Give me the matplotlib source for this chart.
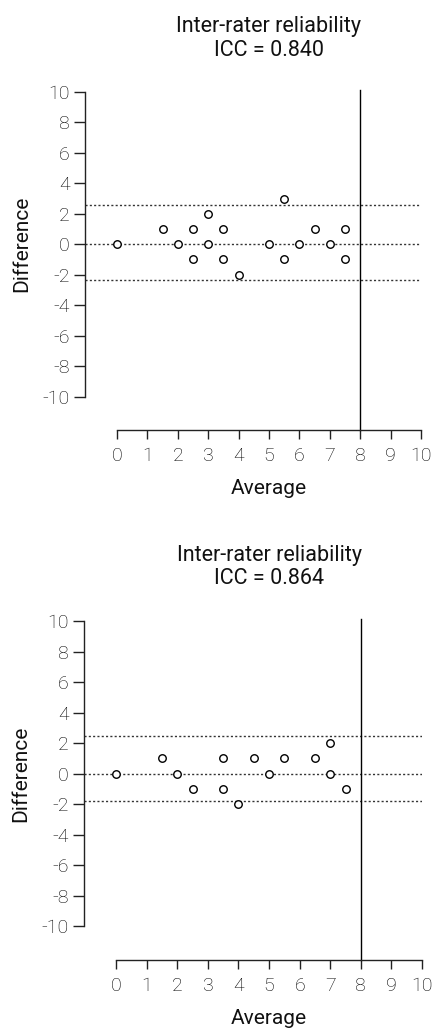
import matplotlib
matplotlib.use("Agg")
import matplotlib.pyplot as plt
from matplotlib.transforms import blended_transform_factory

plt.rcParams['font.family'] = ['Roboto', 'DejaVu Sans']
plt.rcParams['axes.unicode_minus'] = False

# ---- data ----
avg1 = [0, 1.5, 2, 2.5, 2.5, 3, 3, 3.5, 3.5, 4, 5, 5.5, 5.5, 6, 6.5, 7, 7.5, 7.5]
diff1 = [0, 1, 0, 1, -1, 2, 0, 1, -1, -2, 0, 3, -1, 0, 1, 0, 1, -1]
icc1 = "0.840"
loa1 = [2.55, 0, -2.35]

avg2 = [0, 1.5, 2, 2.5, 3.5, 3.5, 4, 4.5, 5, 5.5, 6.5, 7, 7, 7.5]
diff2 = [0, 1, 0, -1, 1, -1, -2, 1, 0, 1, 1, 2, 0, -1]
icc2 = "0.864"
loa2 = [2.45, 0, -1.82]

ref_x = 8
xticks = list(range(0, 11))
yticks = list(range(-10, 11, 2))

W, H = 434, 1029
fig = plt.figure(figsize=(W / 100, H / 100), dpi=100)

XMIN, XMAX = -1.05, 10
YMIN, YMAX = -12.2, 10
FS_TICK = 14
FS_LAB = 15
FS_TITLE = 15.5


def panel(rect_px, avg, diff, loa, icc):
    l, t, r, b = rect_px
    ax = fig.add_axes([l / W, (H - b) / H, (r - l) / W, (b - t) / H])
    ax.set_xlim(XMIN, XMAX)
    ax.set_ylim(YMIN, YMAX)
    for s in ['top', 'right']:
        ax.spines[s].set_visible(False)
    ax.spines['left'].set_bounds(-10, 10)
    ax.spines['bottom'].set_bounds(0, 10)
    for s in ['left', 'bottom']:
        ax.spines[s].set_linewidth(1.0)
        ax.spines[s].set_color('#222222')
    ax.set_xticks(xticks)
    ax.set_yticks(yticks)
    ax.set_xticklabels([str(v) for v in xticks])
    ax.set_yticklabels([str(v) for v in yticks])
    ax.tick_params(axis='both', width=1.0, color='#222222',
                   labelsize=FS_TICK, labelcolor='black')
    ax.tick_params(axis='y', length=8, pad=3)
    ax.tick_params(axis='x', length=6.5, pad=5.5)
    for lab in ax.get_xticklabels() + ax.get_yticklabels():
        lab.set_fontweight('light')

    for v in loa:
        ax.axhline(v, color='#333333', lw=1.0, ls=(0, (1.5, 1.6)), zorder=1)
    ax.plot([ref_x, ref_x], [YMIN, 10.1], color='black', lw=1.0, zorder=2,
            clip_on=False)

    ax.plot(avg, diff, ls='none', marker='o', ms=5.4, mfc='white',
            mec='black', mew=1.0, zorder=3)

    tr = blended_transform_factory(ax.transData, ax.transAxes)
    ax.text(5, 1.093, "Inter-rater reliability\nICC = " + icc, transform=tr,
            ha='center', va='bottom', fontsize=FS_TITLE, color='#111111',
            linespacing=1.15)
    ax.set_xlabel("Average", fontsize=FS_LAB, color='#111111')
    ax.xaxis.set_label_coords(5, -0.145, transform=tr)
    ax.set_ylabel("Difference", fontsize=FS_LAB, color='#111111')
    ax.yaxis.set_label_coords(-0.16, (0 - YMIN) / (YMAX - YMIN))
    return ax


panel((85, 92, 421, 430), avg1, diff1, loa1, icc1)
panel((84, 621, 422, 960), avg2, diff2, loa2, icc2)

fig.savefig("out.png", dpi=100)
